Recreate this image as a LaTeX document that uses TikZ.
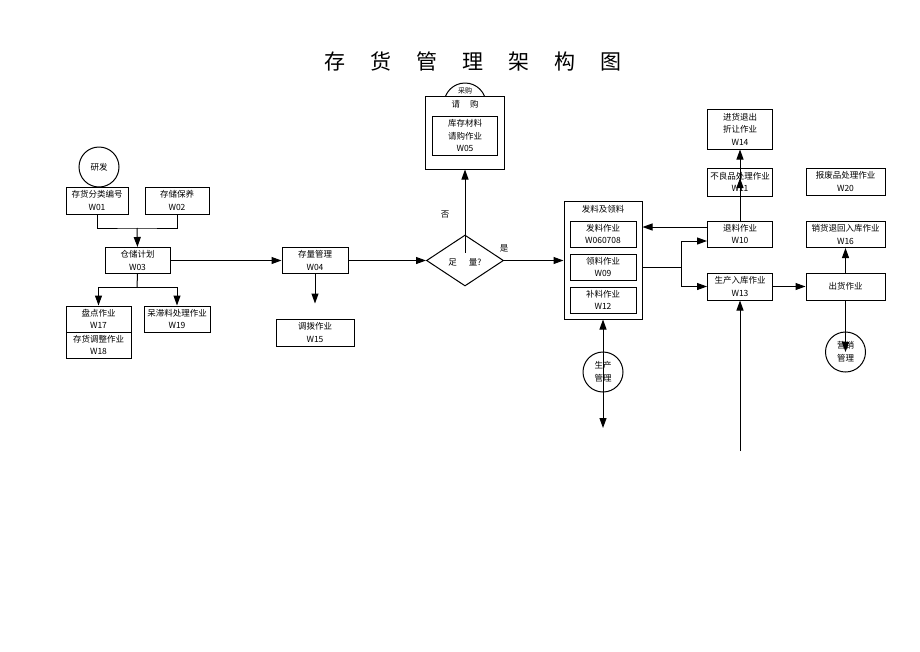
\documentclass[tikz,border=0pt]{standalone}
\usepackage{fontspec}
\setmainfont{Noto Sans CJK SC}
\usetikzlibrary{arrows.meta,shapes.geometric}
\begin{document}
\begin{tikzpicture}[x=1pt,y=-1pt,
  every node/.style={font=\fontsize{8.5}{12.5}\selectfont, align=center, inner sep=0pt},
  box/.style={draw, line width=1pt, fill=white},
  circ/.style={draw, circle, line width=1pt, minimum size=40pt},
  ln/.style={line width=1pt},
  arr/.style={line width=1pt, -{Triangle[length=10pt,width=7pt]}},
  darr/.style={line width=1pt, {Triangle[length=10pt,width=7pt]}-{Triangle[length=10pt,width=7pt]}}]
\useasboundingbox (0,0) rectangle (920,651);
% title
\node[font=\fontsize{21}{24}\selectfont] (title) at (473,61) {存\hspace{25pt}货\hspace{25pt}管\hspace{25pt}理\hspace{25pt}架\hspace{25pt}构\hspace{25pt}图};
% left part
\node[circ] (yf) at (99,167) {研发};
\node[box, minimum width=62pt, minimum height=27pt] (W01) at (97,200.5) {存货分类编号\\W01};
\node[box, minimum width=64pt, minimum height=27pt] (W02) at (177,200.5) {存储保养\\W02};
\node[box, minimum width=65pt, minimum height=26pt] (W03) at (137.5,260.5) {仓储计划\\W03};
\node[box, minimum width=65pt, minimum height=26pt] (W17) at (98.5,319) {盘点作业\\W17};
\node[box, minimum width=65pt, minimum height=26pt] (W18) at (98.5,345) {存货调整作业\\W18};
\node[box, minimum width=66pt, minimum height=26pt] (W19) at (177,319) {呆滞料处理作业\\W19};
\coordinate (j1) at (137,228);
\coordinate (j2) at (137,287);
\draw[ln] (W01.south) |- (j1) -| (W02.south);
\draw[arr] (j1) -- (W03.north);
\draw[ln] (W03.south) -- (j2);
\draw[arr] (j2) -| (W17.north);
\draw[arr] (j2) -| (W19.north);
% middle
\node[box, minimum width=66pt, minimum height=26pt] (W04) at (315,260.5) {存量管理\\W04};
\node[box, minimum width=78pt, minimum height=27pt] (W15) at (315,332.5) {调拨作业\\W15};
\node[draw, diamond, line width=1pt, minimum width=77pt, minimum height=51pt, inner sep=0pt, aspect=1.5] (dia) at (465,260.5) {};
\node at (465,262) {足\hspace{12pt}量?};
\draw[arr] (W03.east) -- (W04.west);
\draw[arr] (W04.south) -- ([yshift=15pt]W15.north);
\draw[arr] (W04.east) -- (dia.west);
% purchase
\node[circ, minimum size=42pt] (cg) at (465,104) {};
\node[box, minimum width=79pt, minimum height=73pt] (qg) at (465,132.5) {};
\node[font=\fontsize{7}{8}\selectfont] (cgt) at (465,91) {采购};
\node (qgt) at (465,104) {请\hspace{10pt}购};
\node[box, minimum width=65pt, minimum height=39pt] (W05) at (465,135.5) {库存材料\\请购作业\\W05};
\draw[arr] ([yshift=8pt]dia.center) -- (qg.south);
\node (no) at (445,215) {否};
\node (yes) at (504,248) {是};
% material box
\node[box, minimum width=78pt, minimum height=118pt] (fl) at (603,260) {};
\node (flt) at (603,209) {发料及领料};
\node[box, minimum width=66pt, minimum height=26pt] (FL) at (603,234) {发料作业\\W060708};
\node[box, minimum width=66pt, minimum height=26pt] (LL) at (603,267) {领料作业\\W09};
\node[box, minimum width=66pt, minimum height=26pt] (BL) at (603,300) {补料作业\\W12};
\draw[arr] (dia.east) -- (fl.west |- dia.east);
\node[circ] (sc) at (603,372) {生产\\管理};
\coordinate (b2) at (603,428);
\draw[darr] (fl.south) -- (b2);
% right part
\node[box, minimum width=65pt, minimum height=40pt] (W14) at (740,129) {进货退出\\折让作业\\W14};
\node[box, minimum width=65pt, minimum height=28pt] (W11) at (740,182) {不良品处理作业\\W11};
\node[box, minimum width=65pt, minimum height=26pt] (W10) at (740,234) {退料作业\\W10};
\node[box, minimum width=65pt, minimum height=27pt] (W13) at (740,286.5) {生产入库作业\\W13};
\node[box, minimum width=79pt, minimum height=27pt] (W20) at (845.5,181.5) {报废品处理作业\\W20};
\node[box, minimum width=79pt, minimum height=26pt] (W16) at (845.5,234.5) {销货退回入库作业\\W16};
\node[box, minimum width=79pt, minimum height=27pt] (ch) at (845.5,286.5) {出货作业};
\node[circ] (yx) at (845.5,352) {营销\\管理};
\draw[arr] (W10.north) -- (W14.south);
\draw[arr] (W10.north) -- ([yshift=4pt]W11.center);
\draw[arr] ([yshift=7pt]W10.west) -- ([yshift=7pt]W10.west -| fl.east);
\coordinate (j3) at (681,267);
\draw[ln] (fl.east |- LL.east) -- (j3);
\draw[arr] (j3) |- ([yshift=-7pt]W10.west);
\draw[arr] (j3) |- (W13.west);
\coordinate (b1) at (740,451);
\draw[arr] (b1) -- (W13.south);
\draw[arr] (W13.east) -- (ch.west);
\draw[arr] (ch.north) -- (W16.south);
\draw[arr] (ch.south) -- (yx.center);
\end{tikzpicture}
\end{document}
